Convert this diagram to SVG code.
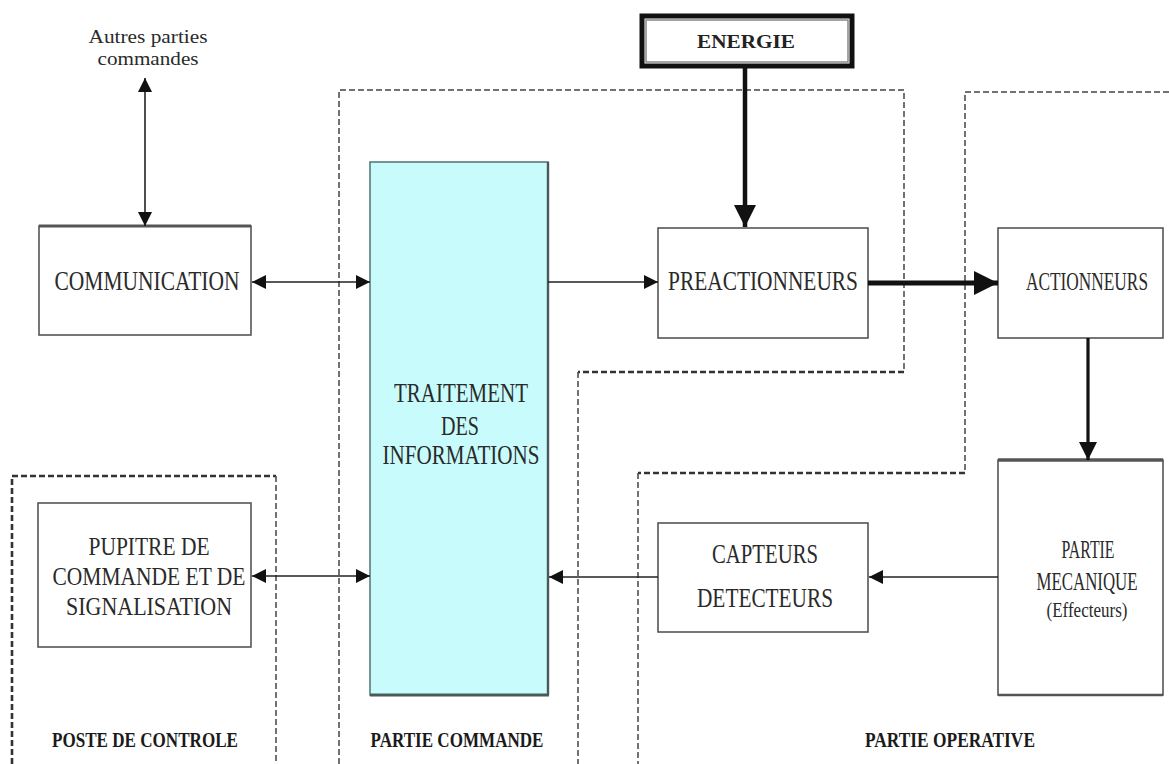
<svg xmlns="http://www.w3.org/2000/svg" width="1169" height="764" viewBox="0 0 1169 764">
<style>
.box{fill:#fff;stroke:#555;stroke-width:1.6}
.lbl{font-family:"Liberation Serif","Times New Roman",serif;font-size:28px;fill:#2a2a2a;text-anchor:middle}
.mid{font-family:"Liberation Serif","Times New Roman",serif;font-size:26px;fill:#2a2a2a;text-anchor:middle}
.rt{font-family:"Liberation Serif","Times New Roman",serif;font-size:20px;fill:#2a2a2a;text-anchor:middle}
.small{font-family:"Liberation Serif","Times New Roman",serif;font-size:18px;fill:#2a2a2a;text-anchor:middle}
.zone{font-family:"Liberation Serif","Times New Roman",serif;font-size:20px;font-weight:bold;fill:#1a1a1a;text-anchor:middle}
.dash{fill:none;stroke:#444;stroke-width:1.5;stroke-dasharray:6 3}
.dashb{fill:none;stroke:#333;stroke-width:2.6;stroke-dasharray:6 3}
.thin{stroke:#222;stroke-width:1.6;fill:none}
</style>
<defs>
<marker id="ah" viewBox="0 0 10 10" refX="10" refY="5" markerUnits="userSpaceOnUse" markerWidth="14" markerHeight="14" orient="auto-start-reverse"><path d="M0,0L10,5L0,10z" fill="#111"/></marker>
<marker id="ahE" viewBox="0 0 10 10" refX="10" refY="5" markerUnits="userSpaceOnUse" markerWidth="22" markerHeight="22" orient="auto"><path d="M0,0L10,5L0,10z" fill="#111"/></marker>
<marker id="ahP" viewBox="0 0 10 10" refX="10" refY="5" markerUnits="userSpaceOnUse" markerWidth="24" markerHeight="24" orient="auto"><path d="M0,0L10,5L0,10z" fill="#111"/></marker>
<marker id="ahA" viewBox="0 0 10 10" refX="10" refY="5" markerUnits="userSpaceOnUse" markerWidth="20" markerHeight="18" orient="auto"><path d="M0,0L10,5L0,10z" fill="#111"/></marker>
</defs>
<rect width="1169" height="764" fill="#fff"/>
<g id="zones">
<path class="dash" d="M339,764 V90 H904 V372"/>
<path class="dashb" d="M904,372 H578"/>
<path class="dash" d="M578,372 V764"/>
<path class="dash" d="M1169,92 H965 V473"/>
<path class="dashb" d="M965,473 H638"/>
<path class="dash" d="M638,473 V764"/>
<path class="dashb" d="M12,764 V476"/>
<path class="dashb" d="M12,476 H276"/>
<path class="dash" d="M276,476 V764"/>
<text class="zone" x="145" y="747" textLength="186" lengthAdjust="spacingAndGlyphs">POSTE DE CONTROLE</text>
<text class="zone" x="457" y="747" textLength="173" lengthAdjust="spacingAndGlyphs">PARTIE COMMANDE</text>
<text class="zone" x="950" y="747" textLength="170" lengthAdjust="spacingAndGlyphs">PARTIE OPERATIVE</text>
</g>
<g id="autres">
<text class="small" x="148" y="43" textLength="119" lengthAdjust="spacingAndGlyphs">Autres parties</text>
<text class="small" x="148" y="65" textLength="101" lengthAdjust="spacingAndGlyphs">commandes</text>
</g>
<g id="communication">
<rect class="box" x="39" y="226" width="212" height="109"/>
<line x1="39" y1="226" x2="251" y2="226" stroke="#555" stroke-width="3"/>
<text class="lbl" x="147" y="290" textLength="185" lengthAdjust="spacingAndGlyphs">COMMUNICATION</text>
</g>
<g id="traitement">
<rect x="370" y="162" width="178" height="533" fill="#c8fcfc" stroke="#5a7a7a" stroke-width="1.6"/>
<line x1="370" y1="695" x2="549" y2="695" stroke="#4a5a5a" stroke-width="3"/>
<line x1="548" y1="162" x2="548" y2="695" stroke="#4a5a5a" stroke-width="2.4"/>
<text class="lbl" x="461" y="402" textLength="134" lengthAdjust="spacingAndGlyphs">TRAITEMENT</text>
<text class="lbl" x="460" y="435" textLength="38" lengthAdjust="spacingAndGlyphs">DES</text>
<text class="lbl" x="461" y="464" textLength="157" lengthAdjust="spacingAndGlyphs">INFORMATIONS</text>
</g>
<g id="energie">
<rect x="642" y="16" width="210" height="50" fill="#fff" stroke="#111" stroke-width="5"/>
<rect x="646" y="20" width="202" height="42" fill="none" stroke="#888" stroke-width="1.5"/>
<text x="746" y="48" font-family="'Liberation Serif','Times New Roman',serif" font-size="19" font-weight="bold" fill="#222" text-anchor="middle" textLength="98" lengthAdjust="spacingAndGlyphs">ENERGIE</text>
</g>
<g id="preactionneurs">
<rect class="box" x="658" y="228" width="210" height="110"/>
<text class="lbl" x="763" y="290" textLength="190" lengthAdjust="spacingAndGlyphs">PREACTIONNEURS</text>
</g>
<g id="actionneurs">
<rect class="box" x="998" y="228" width="165" height="110"/>
<text class="rt" x="0" y="0" transform="translate(1087,290) scale(1,1.25)" textLength="122" lengthAdjust="spacingAndGlyphs">ACTIONNEURS</text>
</g>
<g id="mecanique">
<rect class="box" x="998" y="460" width="165" height="235"/>
<line x1="998" y1="460" x2="1163" y2="460" stroke="#555" stroke-width="3.5"/>
<line x1="998" y1="695" x2="1163" y2="695" stroke="#555" stroke-width="2.4"/>
<text class="rt" x="0" y="0" transform="translate(1088,558) scale(1,1.25)" textLength="53" lengthAdjust="spacingAndGlyphs">PARTIE</text>
<text class="rt" x="0" y="0" transform="translate(1087,590) scale(1,1.25)" textLength="101" lengthAdjust="spacingAndGlyphs">MECANIQUE</text>
<text class="rt" x="0" y="0" transform="translate(1087,617) scale(1,1.2)" style="font-size:18px" textLength="81" lengthAdjust="spacingAndGlyphs">(Effecteurs)</text>
</g>
<g id="capteurs">
<rect class="box" x="658" y="523" width="210" height="109"/>
<text class="lbl" x="765" y="563" textLength="106" lengthAdjust="spacingAndGlyphs">CAPTEURS</text>
<text class="lbl" x="765" y="607" textLength="136" lengthAdjust="spacingAndGlyphs">DETECTEURS</text>
</g>
<g id="pupitre">
<rect class="box" x="38" y="503" width="213" height="144"/>
<text class="mid" x="149" y="555" textLength="121" lengthAdjust="spacingAndGlyphs">PUPITRE DE</text>
<text class="mid" x="149" y="585" textLength="193" lengthAdjust="spacingAndGlyphs">COMMANDE ET DE</text>
<text class="mid" x="149" y="615" textLength="166" lengthAdjust="spacingAndGlyphs">SIGNALISATION</text>
</g>
<g id="connectors">
<line class="thin" x1="145" y1="78" x2="145" y2="226" marker-start="url(#ah)" marker-end="url(#ah)"/>
<line class="thin" x1="252" y1="282" x2="370" y2="282" marker-start="url(#ah)" marker-end="url(#ah)"/>
<line class="thin" x1="548" y1="282" x2="658" y2="282" marker-end="url(#ah)"/>
<line x1="745" y1="66" x2="745" y2="227" stroke="#111" stroke-width="4.5" marker-end="url(#ahE)"/>
<line x1="868" y1="283" x2="998" y2="283" stroke="#111" stroke-width="5" marker-end="url(#ahP)"/>
<line x1="1088" y1="338" x2="1088" y2="460" stroke="#111" stroke-width="3.2" marker-end="url(#ahA)"/>
<line class="thin" x1="998" y1="577" x2="869" y2="577" marker-end="url(#ah)"/>
<line class="thin" x1="658" y1="577" x2="549" y2="577" marker-end="url(#ah)"/>
<line class="thin" x1="252" y1="576" x2="370" y2="576" marker-start="url(#ah)" marker-end="url(#ah)"/>
</g>
</svg>
